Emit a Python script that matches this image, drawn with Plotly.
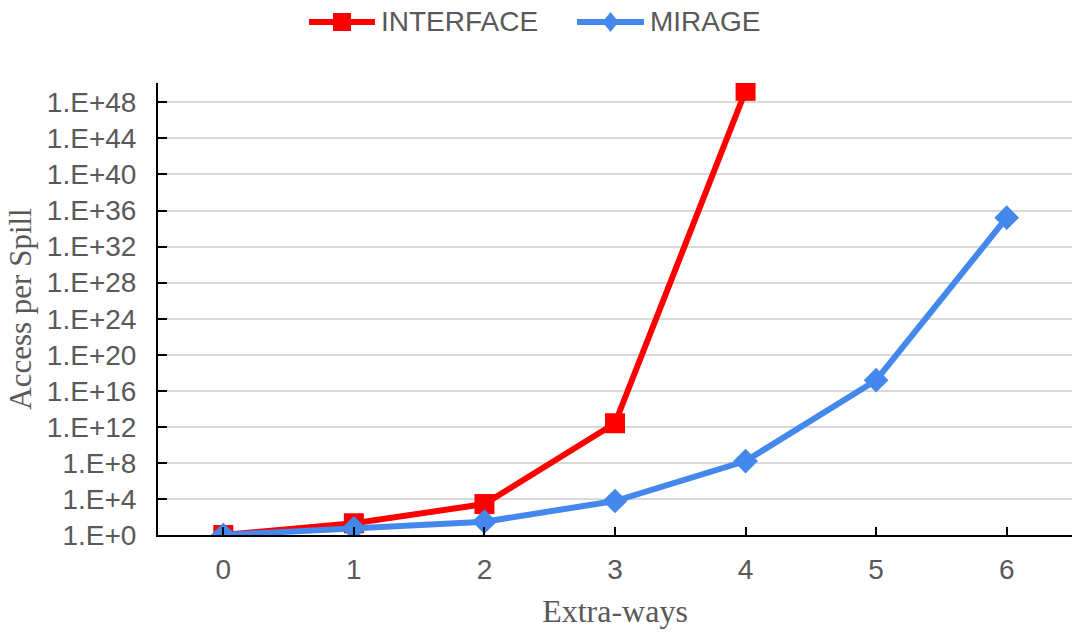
import plotly.graph_objects as go

extra_ways = [0, 1, 2, 3, 4, 5, 6]
interface_vals = [1, 20, 2.7e3, 2.5e12, 1.9e49]
mirage_vals = [1, 5.5, 30, 5.9e3, 1.6e8, 1.5e17, 1.6e35]

tick_exps = list(range(0, 49, 4))
tick_vals = [float(10.0 ** e) for e in tick_exps]
tick_text = [f"1.E+{e}" for e in tick_exps]

RED = "#ff0000"
BLUE = "#4488ee"
GREY = "#595959"
serif = "Liberation Serif, Times New Roman"

W, H = 1078, 634
ML, MR, MT, MB = 158, 6, 83, 99
PW, PH = W - ML - MR, H - MT - MB

fig = go.Figure()
fig.add_trace(go.Scatter(
    x=extra_ways[:len(interface_vals)], y=interface_vals, name="INTERFACE",
    mode="lines+markers",
    line=dict(color=RED, width=6),
    marker=dict(symbol="square", size=20, color=RED),
))
fig.add_trace(go.Scatter(
    x=extra_ways, y=mirage_vals, name="MIRAGE",
    mode="lines+markers",
    line=dict(color=BLUE, width=6),
    marker=dict(symbol="diamond", size=19, color=BLUE),
))


# Legend drawn above the plot with long line samples
def px(x):
    return (x - ML) / PW


def py(y):
    return (H - MB - y) / PH


legend_y = 22
shapes = []
annotations = []
for x0, x1, color, sym, label in [
    (309, 375, RED, "square", "INTERFACE"),
    (577, 644, BLUE, "diamond", "MIRAGE"),
]:
    shapes.append(dict(type="line", xref="paper", yref="paper",
                       x0=px(x0), x1=px(x1), y0=py(legend_y), y1=py(legend_y),
                       line=dict(color=color, width=6)))
    cx = (x0 + x1) / 2
    if sym == "square":
        shapes.append(dict(type="rect", xref="paper", yref="paper",
                           x0=px(cx - 9), x1=px(cx + 9), y0=py(legend_y + 9), y1=py(legend_y - 9),
                           fillcolor=color, line=dict(width=0)))
    else:
        path = (f"M {px(cx - 8)} {py(legend_y)} L {px(cx)} {py(legend_y - 10)} "
                f"L {px(cx + 8)} {py(legend_y)} L {px(cx)} {py(legend_y + 10)} Z")
        shapes.append(dict(type="path", xref="paper", yref="paper", path=path,
                           fillcolor=color, line=dict(width=0)))
    annotations.append(dict(text=label, xref="paper", yref="paper",
                            x=px(x1 + 4), y=py(legend_y), xanchor="left", yanchor="middle",
                            showarrow=False, font=dict(size=28, color=GREY)))

fig.update_layout(
    width=W, height=H,
    margin=dict(l=ML, r=MR, t=MT, b=MB),
    paper_bgcolor="white", plot_bgcolor="white",
    font=dict(family="Liberation Sans, Arial", size=28, color=GREY),
    showlegend=False,
    shapes=shapes,
    annotations=annotations,
    xaxis=dict(
        range=[-0.5, 6.5], tickvals=extra_ways, ticks="inside", ticklen=8,
        tickwidth=2, tickcolor="black", ticklabelstandoff=8,
        showline=True, linecolor="black", linewidth=2, showgrid=False,
        zeroline=False,
        title=dict(text="Extra-ways", font=dict(family=serif, size=32, color=GREY), standoff=16),
    ),
    yaxis=dict(
        type="log", range=[0, 50.15], tickvals=tick_vals, ticktext=tick_text,
        ticks="inside", ticklen=9, tickwidth=2, tickcolor="black", ticklabelstandoff=14,
        showline=True, linecolor="black", linewidth=2,
        showgrid=True, gridcolor="#d9d9d9", gridwidth=2, zeroline=False,
        title=dict(text="Access per Spill", font=dict(family=serif, size=31, color=GREY), standoff=6),
    ),
)

fig.write_html("out.html")
